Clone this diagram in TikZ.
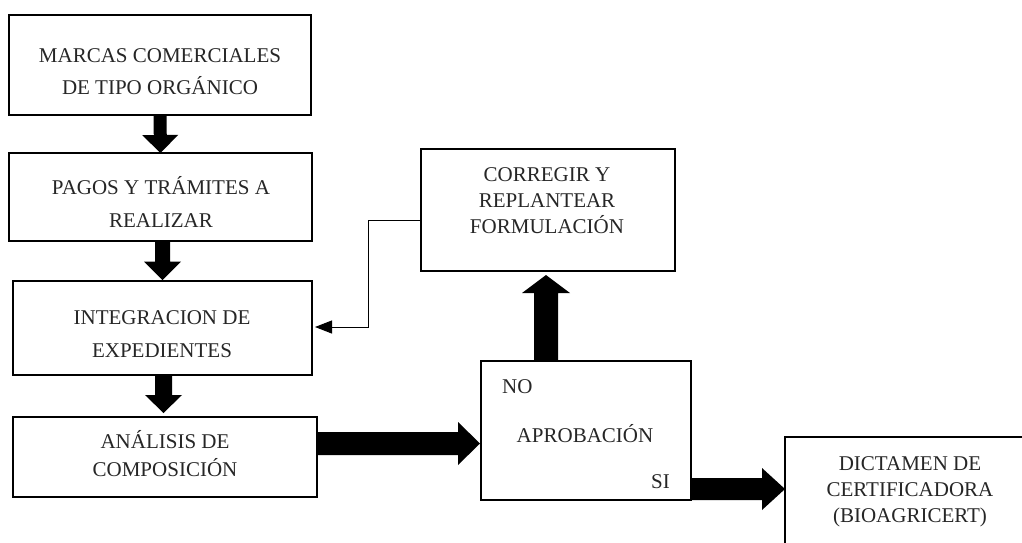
\documentclass[tikz,border=0pt]{standalone}
\usepackage{fontspec}
\setmainfont{Liberation Serif}
\usepackage{tikz}
\usetikzlibrary{calc,arrows.meta}
\tikzstyle{box}=[draw, line width=2.4pt, inner sep=0pt, outer sep=0pt]
\tikzstyle{thinbox}=[draw, line width=2pt, inner sep=0pt, outer sep=0pt]
\tikzstyle{lbl}=[inner sep=0pt, align=center, text=black!85]
\newcommand{\fatArrow}[5]{
	\coordinate (FAa) at #1;
	\coordinate (FAb) at #2;
	\coordinate (FAc) at ($(FAb)!#5!(FAa)$);
	\fill ($(FAa)!#3!90:(FAb)$) -- ($(FAc)!#3!90:(FAb)$) -- ($(FAc)!#4!90:(FAb)$) -- (FAb) -- ($(FAc)!#4!-90:(FAb)$) -- ($(FAc)!#3!-90:(FAb)$) -- ($(FAa)!#3!-90:(FAb)$) -- cycle;
}
\begin{document}
\begin{tikzpicture}[x=1pt,y=-1pt]
	\useasboundingbox (0,0) rectangle (1022,542);
	\clip (0,0) rectangle (1022,542);
	% cajas
	\node[box, minimum width=302pt, minimum height=100pt] (marcas) at (160,65) {};
	\node[box, minimum width=303pt, minimum height=88pt] (pagos) at (160.5,197) {};
	\node[box, minimum width=299pt, minimum height=94pt] (integ) at (162.5,328) {};
	\node[box, minimum width=304pt, minimum height=80pt] (analisis) at (165,457) {};
	\node[thinbox, minimum width=210pt, minimum height=139pt] (aprob) at (586,430.5) {};
	\node[box, minimum width=254pt, minimum height=122pt] (corregir) at (548,210) {};
	\node[thinbox, minimum width=250pt, minimum height=120pt] (dictamen) at (910,497) {};
	% textos
	\node[lbl, anchor=south, font=\fontsize{21}{32}\selectfont] (marcas-t) at (160,95) {MARCAS COMERCIALES\\DE TIPO ORGÁNICO};
	\node[lbl, anchor=south, font=\fontsize{21}{33}\selectfont] (pagos-t) at (161,228) {PAGOS Y TRÁMITES A\\REALIZAR};
	\node[lbl, anchor=south, font=\fontsize{21}{33}\selectfont] (integ-t) at (162,358) {INTEGRACION DE\\EXPEDIENTES};
	\node[lbl, anchor=south, font=\fontsize{21}{28}\selectfont] (analisis-t) at (165,477) {ANÁLISIS DE\\COMPOSICIÓN};
	\node[lbl, anchor=south, font=\fontsize{21}{26}\selectfont] (corregir-t) at (547,234) {CORREGIR Y\\REPLANTEAR\\FORMULACIÓN};
	\node[lbl, anchor=south, font=\fontsize{21}{26}\selectfont] (dictamen-t) at (910,527) {DICTAMEN DE\\CERTIFICADORA\\(BIOAGRICERT)};
	\node[lbl, anchor=base, font=\fontsize{21}{26}\selectfont] (aprob-t) at (585,442) {APROBACIÓN};
	\node[lbl, anchor=base west, font=\fontsize{21}{26}\selectfont] (no) at (502,393) {NO};
	\node[lbl, anchor=base east, font=\fontsize{21}{26}\selectfont] (si) at (670,488) {SI};
	% flechas gruesas
	\fatArrow{(marcas.south)}{(pagos.north)}{6.5pt}{18pt}{18pt}
	\fatArrow{($(pagos.south)+(2,0)$)}{($(integ.north)+(0,-1)$)}{7.5pt}{18.5pt}{18.5pt}
	\fatArrow{($(integ.south)+(1,0)$)}{($(analisis.north)+(-1.5,-4)$)}{8.5pt}{18.5pt}{18pt}
	\fatArrow{($(analisis.east)+(0,-13.5)$)}{($(aprob.west)+(-1,13)$)}{11.5pt}{21.5pt}{22pt}
	\fatArrow{($(aprob.north)+(-40,0)$)}{($(corregir.south)+(-2,4)$)}{12pt}{24pt}{18pt}
	\fatArrow{($(aprob.east)+(0,58.5)$)}{($(dictamen.west)+(0,-8)$)}{11pt}{21pt}{23pt}
	% retorno
	\draw[line width=1pt, -{Triangle[length=17pt,width=13pt]}] ($(corregir.west)+(0,10)$) -- ++(-53,0) |- ($(integ.east)+(3,-1)$);
\end{tikzpicture}
\end{document}
